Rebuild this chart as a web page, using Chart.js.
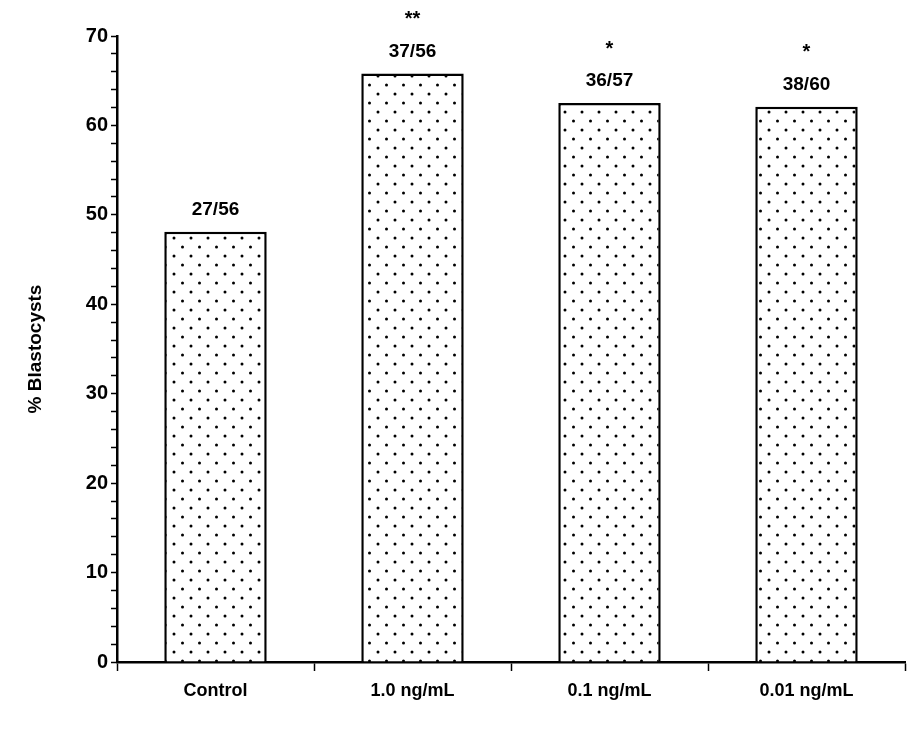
<!DOCTYPE html>
<html>
<head>
<meta charset="utf-8">
<script src="https://cdn.jsdelivr.net/npm/chart.js@4"></script>
<style>
  html, body { margin: 0; padding: 0; background: #fff; }
  #wrap { width: 907px; height: 730px; }
</style>
</head>
<body>
<div id="wrap"><canvas id="chart" width="907" height="730"></canvas></div>
<script>
const categories = ['Control', '1.0 ng/mL', '0.1 ng/mL', '0.01 ng/mL'];
const blastocystPct = [48.1, 65.8, 62.5, 62.1];
const fractions = ['27/56', '37/56', '36/57', '38/60'];
const stars = ['', '**', '*', '*'];

const fontFamily = '"Liberation Sans", Arial, Helvetica, sans-serif';

// dotted fill like the original stipple
function makeDots() {
    const c = document.createElement('canvas');
    c.width = 17;
    c.height = 18;
    const g = c.getContext('2d');
    g.fillStyle = '#fff';
    g.fillRect(0, 0, 17, 18);
    g.fillStyle = '#000';
    g.beginPath(); g.arc(4, 4, 1.5, 0, Math.PI * 2); g.fill();
    g.beginPath(); g.arc(12.5, 13, 1.5, 0, Math.PI * 2); g.fill();
    return g.createPattern(c, 'repeat');
}

const barLabels = {
    id: 'barLabels',
    afterDatasetsDraw(chart) {
        const ctx = chart.ctx;
        const meta = chart.getDatasetMeta(0);
        ctx.save();
        ctx.fillStyle = '#000';
        ctx.textAlign = 'center';
        ctx.textBaseline = 'middle';
        meta.data.forEach((bar, i) => {
            ctx.font = 'bold 19px ' + fontFamily;
            ctx.fillText(fractions[i], bar.x, bar.y - 22);
            if (stars[i]) {
                ctx.font = 'bold 20px ' + fontFamily;
                ctx.fillText(stars[i], bar.x, bar.y - 54);
            }
        });
        ctx.restore();
    }
};

const ctx = document.getElementById('chart').getContext('2d');
new Chart(ctx, {
    type: 'bar',
    data: {
        labels: categories,
        datasets: [{
            data: blastocystPct,
            backgroundColor: makeDots(),
            borderColor: '#000',
            borderWidth: 2.5,
            categoryPercentage: 1,
            barPercentage: 0.52
        }]
    },
    options: {
        responsive: false,
        animation: false,
        layout: { padding: { top: 36, left: 20, right: 2, bottom: 6 } },
        plugins: {
            legend: { display: false },
            tooltip: { enabled: false }
        },
        scales: {
            x: {
                grid: {
                    offset: true,
                    drawOnChartArea: false,
                    tickLength: 9,
                    tickColor: '#000',
                    tickWidth: 1.5
                },
                border: { color: '#000', width: 2.5 },
                ticks: {
                    color: '#000',
                    font: { family: fontFamily, size: 18, weight: 'bold' },
                    padding: 9
                },
                afterFit(scale) { scale.height = 62; }
            },
            y: {
                min: 0,
                max: 70,
                grid: {
                    drawOnChartArea: false,
                    tickLength: 6,
                    tickColor: '#000',
                    tickWidth: 1.5
                },
                border: { color: '#000', width: 2.5 },
                ticks: {
                    stepSize: 2,
                    autoSkip: false,
                    color: '#000',
                    font: { family: fontFamily, size: 20, weight: 'bold' },
                    padding: 3,
                    callback: v => (v % 10 === 0 ? v : '')
                },
                title: {
                    display: true,
                    text: '% Blastocysts',
                    color: '#000',
                    font: { family: fontFamily, size: 19, weight: 'bold' },
                    padding: { bottom: 14 }
                },
                afterFit(scale) { scale.width = 97; }
            }
        }
    },
    plugins: [barLabels]
});
</script>
</body>
</html>
